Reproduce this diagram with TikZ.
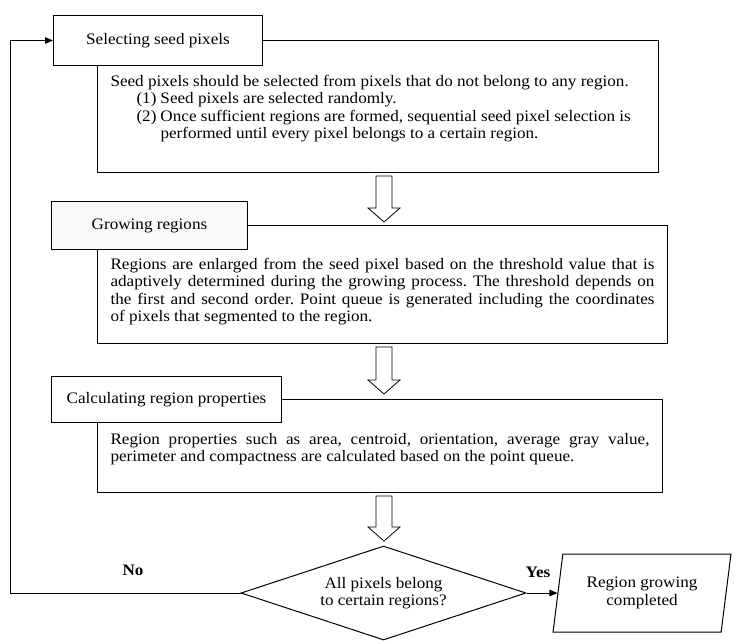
\documentclass[tikz,border=0pt]{standalone}
\usepackage{fontspec}
\setmainfont{Liberation Serif}[FakeStretch=1.07]
\usetikzlibrary{arrows.meta,shapes.geometric}
\newcommand\blockarrow[3]{%
  \draw[barrow] (#1-8,#2) -- (#1+8,#2) -- (#1+8,#3-14) -- (#1+16,#3-14)
    -- (#1,#3) -- (#1-16,#3-14) -- (#1-8,#3-14) -- cycle;}
\begin{document}
\frenchspacing
\begin{tikzpicture}[x=1pt,y=-1pt,
  line width=1pt,
  every node/.style={font=\fontsize{16}{17.5}\selectfont},
  titlebox/.style={draw, fill=white, inner sep=0pt, anchor=north west},
  bodybox/.style={draw, fill=white, inner sep=0pt, anchor=north west},
  bodytext/.style={inner sep=0pt, anchor=base west, align=justify},
  arr/.style={-{Triangle[length=8pt,width=6.5pt]}},
  barrow/.style={draw, fill=white, line width=0.8pt},
  lbl/.style={font=\fontsize{16}{17.5}\selectfont\bfseries}
]
\useasboundingbox (0,0) rectangle (735,643);
\fill[white] (0,0) rectangle (735,643);

% step 1
\node[bodybox, minimum width=561pt, minimum height=132pt] (b1) at (97,40) {};
\node[titlebox, minimum width=209pt, minimum height=50pt] (t1) at (53,15) {Selecting seed pixels};
% anchored at the baseline of the last line
\node[inner sep=0pt, anchor=base west, align=left] (b1t) at (110,138.5) {%
Seed pixels should be selected from pixels that do not belong to any region.\\
\hspace*{26pt}\makebox[24pt][l]{(1)}Seed pixels are selected randomly.\\
\hspace*{26pt}\makebox[24pt][l]{(2)}Once sufficient regions are formed, sequential seed pixel selection is\\
\hspace*{50pt}performed until every pixel belongs to a certain region.};

\blockarrow{384}{176}{222}

% step 2
\node[bodybox, minimum width=570pt, minimum height=118pt] (b2) at (97,225) {};
\node[titlebox, fill=gray!5, minimum width=196pt, minimum height=48pt] (t2) at (51,201) {Growing regions};
\node[bodytext, text width=544pt] (b2t) at (110,269) {%
Regions are enlarged from the seed pixel based on the threshold value that is\linebreak
adaptively determined during the growing process. The threshold depends on\linebreak
the first and second order. Point queue is generated including the coordinates\linebreak
of pixels that segmented to the region.};

\blockarrow{384}{347}{394}

% step 3
\node[bodybox, minimum width=565pt, minimum height=93pt] (b3) at (97,399) {};
\node[titlebox, minimum width=230pt, minimum height=46pt] (t3) at (51,376) {Calculating region properties};
\node[bodytext, text width=539pt] (b3t) at (110,444) {%
Region properties such as area, centroid, orientation, average gray value,\linebreak
perimeter and compactness are calculated based on the point queue.};

\blockarrow{384}{496}{541}

% decision
\node[diamond, draw, aspect=3.03, minimum width=285pt, minimum height=94pt,
      inner sep=0pt, align=center] (dia) at (383.5,593) {All pixels belong\\to certain regions?};
\node[trapezium, draw, trapezium left angle=77.7, trapezium right angle=102.3,
      trapezium stretches=true, minimum width=178pt, minimum height=78pt,
      inner sep=0pt, align=center] (par) at (642,593) {Region growing\\completed};

\node[lbl] (no) at (133,570) {No};
\node[lbl] (yes) at (538,572) {Yes};

\coordinate (lft) at (10,0);
\draw[arr] (dia.west) -- (dia.west -| lft) |- (t1.west);
\draw[arr] (dia.east) -- (par.left side);
\end{tikzpicture}
\end{document}
